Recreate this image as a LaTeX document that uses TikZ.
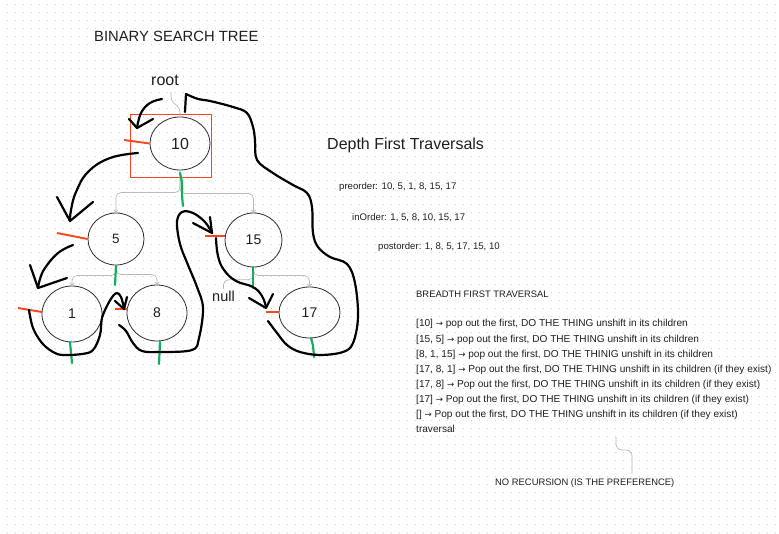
\documentclass[tikz,border=0pt]{standalone}
\usepackage{fontspec}
\setmainfont{Liberation Sans}
\newfontfamily\symf{DejaVu Sans}
\usetikzlibrary{shapes.geometric,arrows.meta,calc}
\definecolor{redmk}{RGB}{242,72,34}
\definecolor{greenmk}{RGB}{20,174,92}
\definecolor{txt}{RGB}{30,30,30}
\definecolor{dotc}{RGB}{212,212,212}
\definecolor{conn}{RGB}{185,185,185}
\definecolor{edge}{RGB}{45,45,45}
\newcommand\myfs[1]{\fontsize{#1}{#1}\selectfont}
\newcommand\rarr{{\symf\fontsize{8.6}{8.6}\selectfont →}}
\begin{document}
\begin{tikzpicture}[x=1pt,y=-1pt,
  tnode/.style={ellipse, draw=edge, line width=0.8pt, inner sep=0pt, text=txt, font=\myfs{14}},
  lbl/.style={inner sep=0pt, text=txt, anchor=base west},
  gconn/.style={draw=conn, line width=0.7pt, rounded corners=5pt},
  gtip/.style={-{Straight Barb[length=2.2pt,width=4.5pt]}},
  redmark/.style={draw=redmk, line width=1.9pt},
  greenmark/.style={draw=greenmk, line width=2.2pt, line cap=round},
  hand/.style={draw=black, line width=2.2pt, line cap=round, line join=round}]
\useasboundingbox (0,0) rectangle (779,534);
\fill[white] (0,0) rectangle (779,534);
% dot grid
\foreach \j in {0,...,66}{
  \draw[dotc, line width=1.5pt, dash pattern=on 1.5pt off 6.5pt] (6.6,{4.7+8*\j}) -- (779,{4.7+8*\j});
}
% titles
\node[lbl, font=\myfs{14.8}] (title) at (94,42) {BINARY SEARCH TREE};
\node[lbl, font=\myfs{16}] (root) at (151,86) {root};
\node[lbl, font=\myfs{14.5}] (null) at (212,301.5) {null};

% red box
\draw[redmk, line width=0.9pt] (130,114) rectangle (211,177);

% tree nodes
\node[tnode, font=\myfs{16}, minimum width=60pt, minimum height=53pt] (n10) at (180,143.5) {10};
\node[tnode, font=\myfs{13.5}, minimum width=56pt, minimum height=52pt] (n5) at (116,239) {5};
\node[tnode, minimum width=57pt, minimum height=54pt] (n15) at (253.5,240) {15};
\node[tnode, minimum width=60pt, minimum height=56pt] (n1) at (72,314) {1};
\node[tnode, minimum width=60pt, minimum height=56pt] (n8) at (157,313) {8};
\node[tnode, minimum width=61pt, minimum height=51pt] (n17) at (309.5,312.5) {17};

% gray connectors
\draw[gconn, rounded corners=4pt] ($(root.base west)+(20,6)$) -- (171,101) -- (180,108) -- (n10.north);
\draw[gconn, gtip] (n10.south) |- ([yshift=20pt]n5.north) -- (n5.north);
\draw[gconn, gtip] (n10.south) |- ([yshift=19pt]n15.north) -- (n15.north);
\draw[gconn, gtip] (n5.south) |- ([yshift=10pt]n1.north) -- (n1.north);
\draw[gconn, gtip] (n5.south) |- ([yshift=10pt]n8.north) -- (n8.north);
\draw[gconn] (n15.south) |- ([yshift=11pt]null.north) -- ([yshift=2pt]null.north);
\draw[gconn, gtip] (n15.south) |- ([yshift=11pt]n17.north) -- (n17.north);

% red marks
\draw[redmark] (124,140) -- (n10.west);
\draw[redmark] (57,233) -- (n5.west);
\draw[redmark] (18,308) -- (42,312);
\draw[redmark] (115,309) -- (128,309);
\draw[redmark] (205,236) -- (225,236);
\draw[redmark] (266,312) -- (279,312);

% green marks
\draw[greenmark] plot[smooth] coordinates {(180,173) (182,183) (182,195) (183,206)};
\draw[greenmark] (116,266) -- (115,285);
\draw[greenmark] (253,267) -- (253,288);
\draw[greenmark] (70,342) -- (72,363);
\draw[greenmark] (160,342) -- (159,364);
\draw[greenmark] plot[smooth] coordinates {(311,338) (313,346) (314,357)};

% hand-drawn traversal
\draw[hand] plot[smooth, tension=0.7] coordinates {(162,99) (150,103) (141,113) (137,128)};
\draw[hand] (129,119) -- (137,128) -- (153,119);
\draw[hand] plot[smooth, tension=0.7] coordinates {(138,153) (110,158) (88,172) (76,192) (71,210) (70,221)};
\draw[hand] (57,197) -- (70,221) -- (93,202);
\draw[hand] plot[smooth, tension=0.7] coordinates {(73,245) (58,253) (45,268) (40,279) (38,288)};
\draw[hand] (30,265) -- (38,288) -- (67,278);
\draw[hand] plot[smooth, tension=0.6] coordinates {(29,310) (33,328) (42,343) (53,352) (63,355) (82,354) (93,350) (100,335) (102,318) (108,304) (113,296) (117,293) (121,297) (124,308)};
\draw[hand] (115,301) -- (124,309) -- (127,297);
\draw[hand] plot[smooth, tension=0.6] coordinates {(119,325) (126,331) (133,343) (142,351) (160,352) (192,350) (199,338) (203,308) (197,287) (188,265) (180,244) (177,222) (182,212) (193,213) (205,222) (212,233)};
\draw[hand] (193,223) -- (212,233) -- (210,217);
\draw[hand] plot[smooth, tension=0.7] coordinates {(216,238) (218,256) (224,270) (236,281) (253,287) (262,296) (266,307)};
\draw[hand] (249,298) -- (266,308) -- (273,294);
\draw[hand] plot[smooth, tension=0.6] coordinates {(268,321) (277,333) (287,345) (300,352) (320,355) (343,352) (353,343) (358,317) (355,283) (347,264) (330,257) (318,247) (313,233) (312,207) (307,193) (293,185) (273,173) (257,160) (255,140) (253,127) (247,113) (233,107) (210,101) (198,99) (186,94)};
\draw[hand] (186,94) -- (185,112);

% depth first
\node[lbl, font=\myfs{16}] (dft) at (327,149.5) {Depth First Traversals};
\node[lbl, font=\myfs{9.6}] (pre) at (339,189.5) {preorder: 10, 5, 1, 8, 15, 17};
\node[lbl, font=\myfs{9.6}] (ino) at (352,220.5) {inOrder: 1, 5, 8, 10, 15, 17};
\node[lbl, font=\myfs{9.6}] (post) at (378,249.5) {postorder: 1, 8, 5, 17, 15, 10};

% breadth first
\node[lbl, font=\myfs{9.4}] (bft) at (416,297.5) {BREADTH FIRST TRAVERSAL};
\node[lbl, font=\myfs{10.1}] (b1) at (416,327) {[10] \rarr{} pop out the first, DO THE THING unshift in its children};
\node[lbl, font=\myfs{10.1}] (b2) at (416,342.5) {[15, 5] \rarr{} pop out the first, DO THE THING unshift in its children};
\node[lbl, font=\myfs{10.1}] (b3) at (416,357.5) {[8, 1, 15] \rarr{} pop out the first, DO THE THINIG unshift in its children};
\node[lbl, font=\myfs{10.1}] (b4) at (416,372.5) {[17, 8, 1] \rarr{} Pop out the first, DO THE THING unshift in its children (if they exist)};
\node[lbl, font=\myfs{10.1}] (b5) at (416,387.5) {[17, 8] \rarr{} Pop out the first, DO THE THING unshift in its children (if they exist)};
\node[lbl, font=\myfs{10.1}] (b6) at (416,402.5) {[17] \rarr{} Pop out the first, DO THE THING unshift in its children (if they exist)};
\node[lbl, font=\myfs{10.1}] (b7) at (416,417.5) {[] \rarr{} Pop out the first, DO THE THING unshift in its children (if they exist)};
\node[lbl, font=\myfs{10.1}] (trav) at (416,432) {traversal};
\node[lbl, font=\myfs{9.4}] (norec) at (495,485.5) {NO RECURSION (IS THE PREFERENCE)};
\coordinate (tstart) at (616,437);
\coordinate (tend) at (632,474);
\draw[gconn, rounded corners=6pt] (tstart) -- (616,450) -- (632,450) -- (tend);
\end{tikzpicture}
\end{document}
